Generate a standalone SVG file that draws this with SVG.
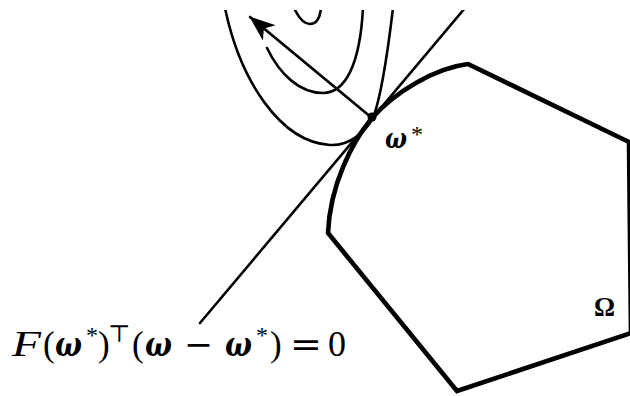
<svg xmlns="http://www.w3.org/2000/svg" width="630" height="396" viewBox="0 0 630 396">
<style>
.thin{fill:none;stroke:#000;stroke-width:2.6;stroke-linecap:round}
.thick{fill:none;stroke:#000;stroke-width:4.6;stroke-linejoin:miter}
.m{font-family:"Liberation Serif","DejaVu Serif",serif;fill:#000}
.o{font-family:"DejaVu Serif","Liberation Serif",serif;fill:#000}
.w{font-family:"DejaVu Serif","Liberation Serif",serif;font-weight:bold;font-style:italic;fill:#000}
</style>
<defs>
<marker id="ah" viewBox="0 0 26 20" refX="25" refY="10" markerWidth="26" markerHeight="20" markerUnits="userSpaceOnUse" orient="auto">
<path d="M0,0 L26,10 L0,20 L7,10 Z" fill="#000"/>
</marker>
<clipPath id="top"><rect x="0" y="10" width="630" height="386"/></clipPath>
</defs>
<rect width="630" height="396" fill="#fff"/>
<g id="omega-set">
<path class="thick" d="M468,64 L629,142 L631,333 L457,391 L328,233 C330,185 352,142 372,118 C395,92 435,68 468,64 Z"/>
</g>
<g id="contours" clip-path="url(#top)">
<path class="thin" d="M225,8 C240,80 280,142 330,145 C350,146 365,132 373,118 C382,95 388,50 393,8"/>
<path class="thin" d="M267,48 C280,75 300,93 323,93 C345,93 360,65 363,8"/>
<path class="thin" d="M295,10 C300,20 305,24 310,24 C316,24 320,18 321,8"/>
<path class="thin" d="M465,8 L200,323"/>
</g>
<g id="connectors">
<line class="thin" x1="372" y1="118" x2="250" y2="17" marker-end="url(#ah)"/>
</g>
<g id="optimum">
<circle cx="372" cy="117" r="4.5" fill="#000"/>
<text class="w" x="385" y="148" font-size="28" textLength="22" lengthAdjust="spacingAndGlyphs">ω</text>
<text class="m" x="411" y="142" font-size="24">*</text>
</g>
<g id="labels">
<text class="m" x="594" y="316" font-size="28" font-weight="bold" textLength="21" lengthAdjust="spacingAndGlyphs">Ω</text>
<text class="m" font-size="35" x="12" y="356" font-style="italic" textLength="29" lengthAdjust="spacingAndGlyphs">F</text>
<text class="m" font-size="35" x="43" y="356">(</text>
<text class="w" font-size="34" x="55" y="356" textLength="27" lengthAdjust="spacingAndGlyphs">ω</text>
<text class="m" font-size="24" x="86" y="343">*</text>
<text class="m" font-size="35" x="98" y="356">)</text>
<text class="o" font-size="24" x="108" y="342">⊤</text>
<text class="m" font-size="35" x="132" y="356">(</text>
<text class="w" font-size="34" x="145" y="356" textLength="27" lengthAdjust="spacingAndGlyphs">ω</text>
<text class="o" font-size="34" x="184" y="356" textLength="29" lengthAdjust="spacingAndGlyphs">−</text>
<text class="w" font-size="34" x="225" y="356" textLength="27" lengthAdjust="spacingAndGlyphs">ω</text>
<text class="m" font-size="24" x="256" y="343">*</text>
<text class="m" font-size="35" x="270" y="356">)</text>
<text class="o" font-size="34" x="290" y="356" textLength="32" lengthAdjust="spacingAndGlyphs">=</text>
<text class="m" font-size="36" x="328" y="356">0</text>
</g>
</svg>
